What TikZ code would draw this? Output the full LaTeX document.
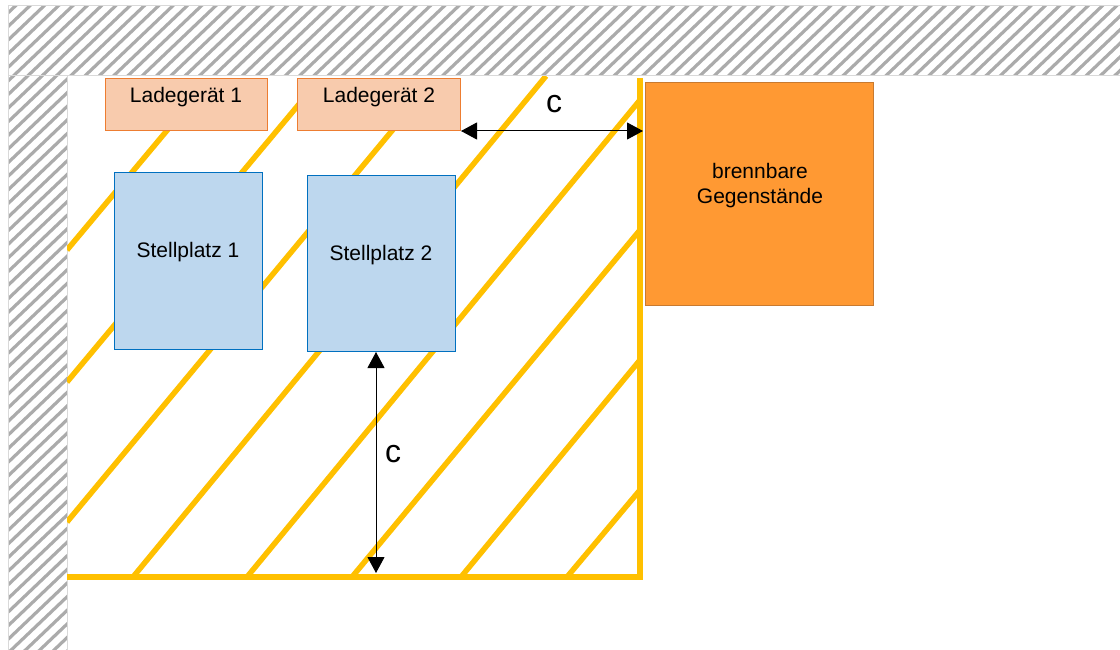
\documentclass[tikz,border=0pt]{standalone}
\usepackage{fontspec}
\setmainfont{Liberation Sans}
\usetikzlibrary{arrows.meta}
\definecolor{wallhatch}{HTML}{ABABAB}
\definecolor{walledge}{HTML}{D9D9D9}
\definecolor{zone}{HTML}{FFC000}
\definecolor{chargefill}{HTML}{F8CBAD}
\definecolor{chargeedge}{HTML}{ED7D31}
\definecolor{bayfill}{HTML}{BDD7EE}
\definecolor{bayedge}{HTML}{0070C0}
\definecolor{firefill}{HTML}{FF9933}
\definecolor{fireedge}{HTML}{C87A30}
\tikzset{
  x=1pt,y=-1pt,
  box/.style={draw,line width=1pt,minimum width=#1,anchor=north west,inner sep=0pt},
  boxtext/.style={font=\fontsize{21}{25}\selectfont,align=center,inner sep=0pt},
  zoneline/.style={draw=zone,line width=5.5pt},
  dim/.style={draw=black,line width=1pt,{Triangle[length=16pt,width=17pt]}-{Triangle[length=16pt,width=17pt]}},
  dimlabel/.style={font=\fontsize{32}{32}\selectfont,inner sep=0pt}
}
\begin{document}
\begin{tikzpicture}
\useasboundingbox (0,0) rectangle (1120,650);
% walls
\begin{scope}
  \clip (8,6) rectangle (1120,76) (8,76) rectangle (67,650);
  \foreach \k in {0,...,125}
    \draw[wallhatch,line width=3.2pt] ({-700+14.3*\k},660) -- ({-700+14.3*\k+660*1.05},0);
\end{scope}
\draw[walledge,line width=1pt] (8,650) -- (8,6) -- (1120,6);
\draw[walledge,line width=1pt] (67,650) -- (67,76) -- (1120,76);
\draw[walledge,line width=1pt] (8,76) -- (67,76);
% charging zone hatching
\begin{scope}
  \clip (67,77) rectangle (640,577);
  \draw[zoneline] (67,250) -- (195,97);
  \draw[zoneline] (67,382) -- (305,97);
  \draw[zoneline] (67,522) -- (420,97);
  \draw[zoneline] (133,577) -- (546,76);
  \draw[zoneline] (247,577) -- (640,100);
  \draw[zoneline] (352,577) -- (640,230);
  \draw[zoneline] (461,577) -- (640,360);
  \draw[zoneline] (567,577) -- (640,490);
\end{scope}
\draw[zoneline] (640,78) -- (640,580) (640,577) -- (67,577);
% boxes
\node[box=162pt,draw=chargeedge,fill=chargefill,minimum height=52.5pt] (lade1) at (105,78) {};
\node[boxtext] (lade1t) at (186,97) {Ladegerät 1};
\node[box=163pt,draw=chargeedge,fill=chargefill,minimum height=52.5pt] (lade2) at (297,78) {};
\node[boxtext] (lade2t) at (379,97) {Ladegerät 2};
\node[box=148pt,draw=bayedge,fill=bayfill,minimum height=176.5pt] (st1) at (114,172.5) {};
\node[boxtext] (st1t) at (188,252) {Stellplatz 1};
\node[box=148pt,draw=bayedge,fill=bayfill,minimum height=175.5pt] (st2) at (307,175.5) {};
\node[boxtext] (st2t) at (381,255) {Stellplatz 2};
\node[box=228pt,draw=fireedge,fill=firefill,minimum height=223pt] (fire) at (645,82) {};
\node[boxtext] (firet) at (760,186) {brennbare\\Gegenstände};
% dimensions
\coordinate (zoneright) at (643,131);
\coordinate (zonebottom) at (376,573);
\draw[dim] (lade2.south east |- zoneright) -- (zoneright);
\draw[dim] (st2.south -| zonebottom) -- (zonebottom);
\node[dimlabel] (c1) at (554,104) {c};
\node[dimlabel] (c2) at (393,454) {c};
\end{tikzpicture}
\end{document}
